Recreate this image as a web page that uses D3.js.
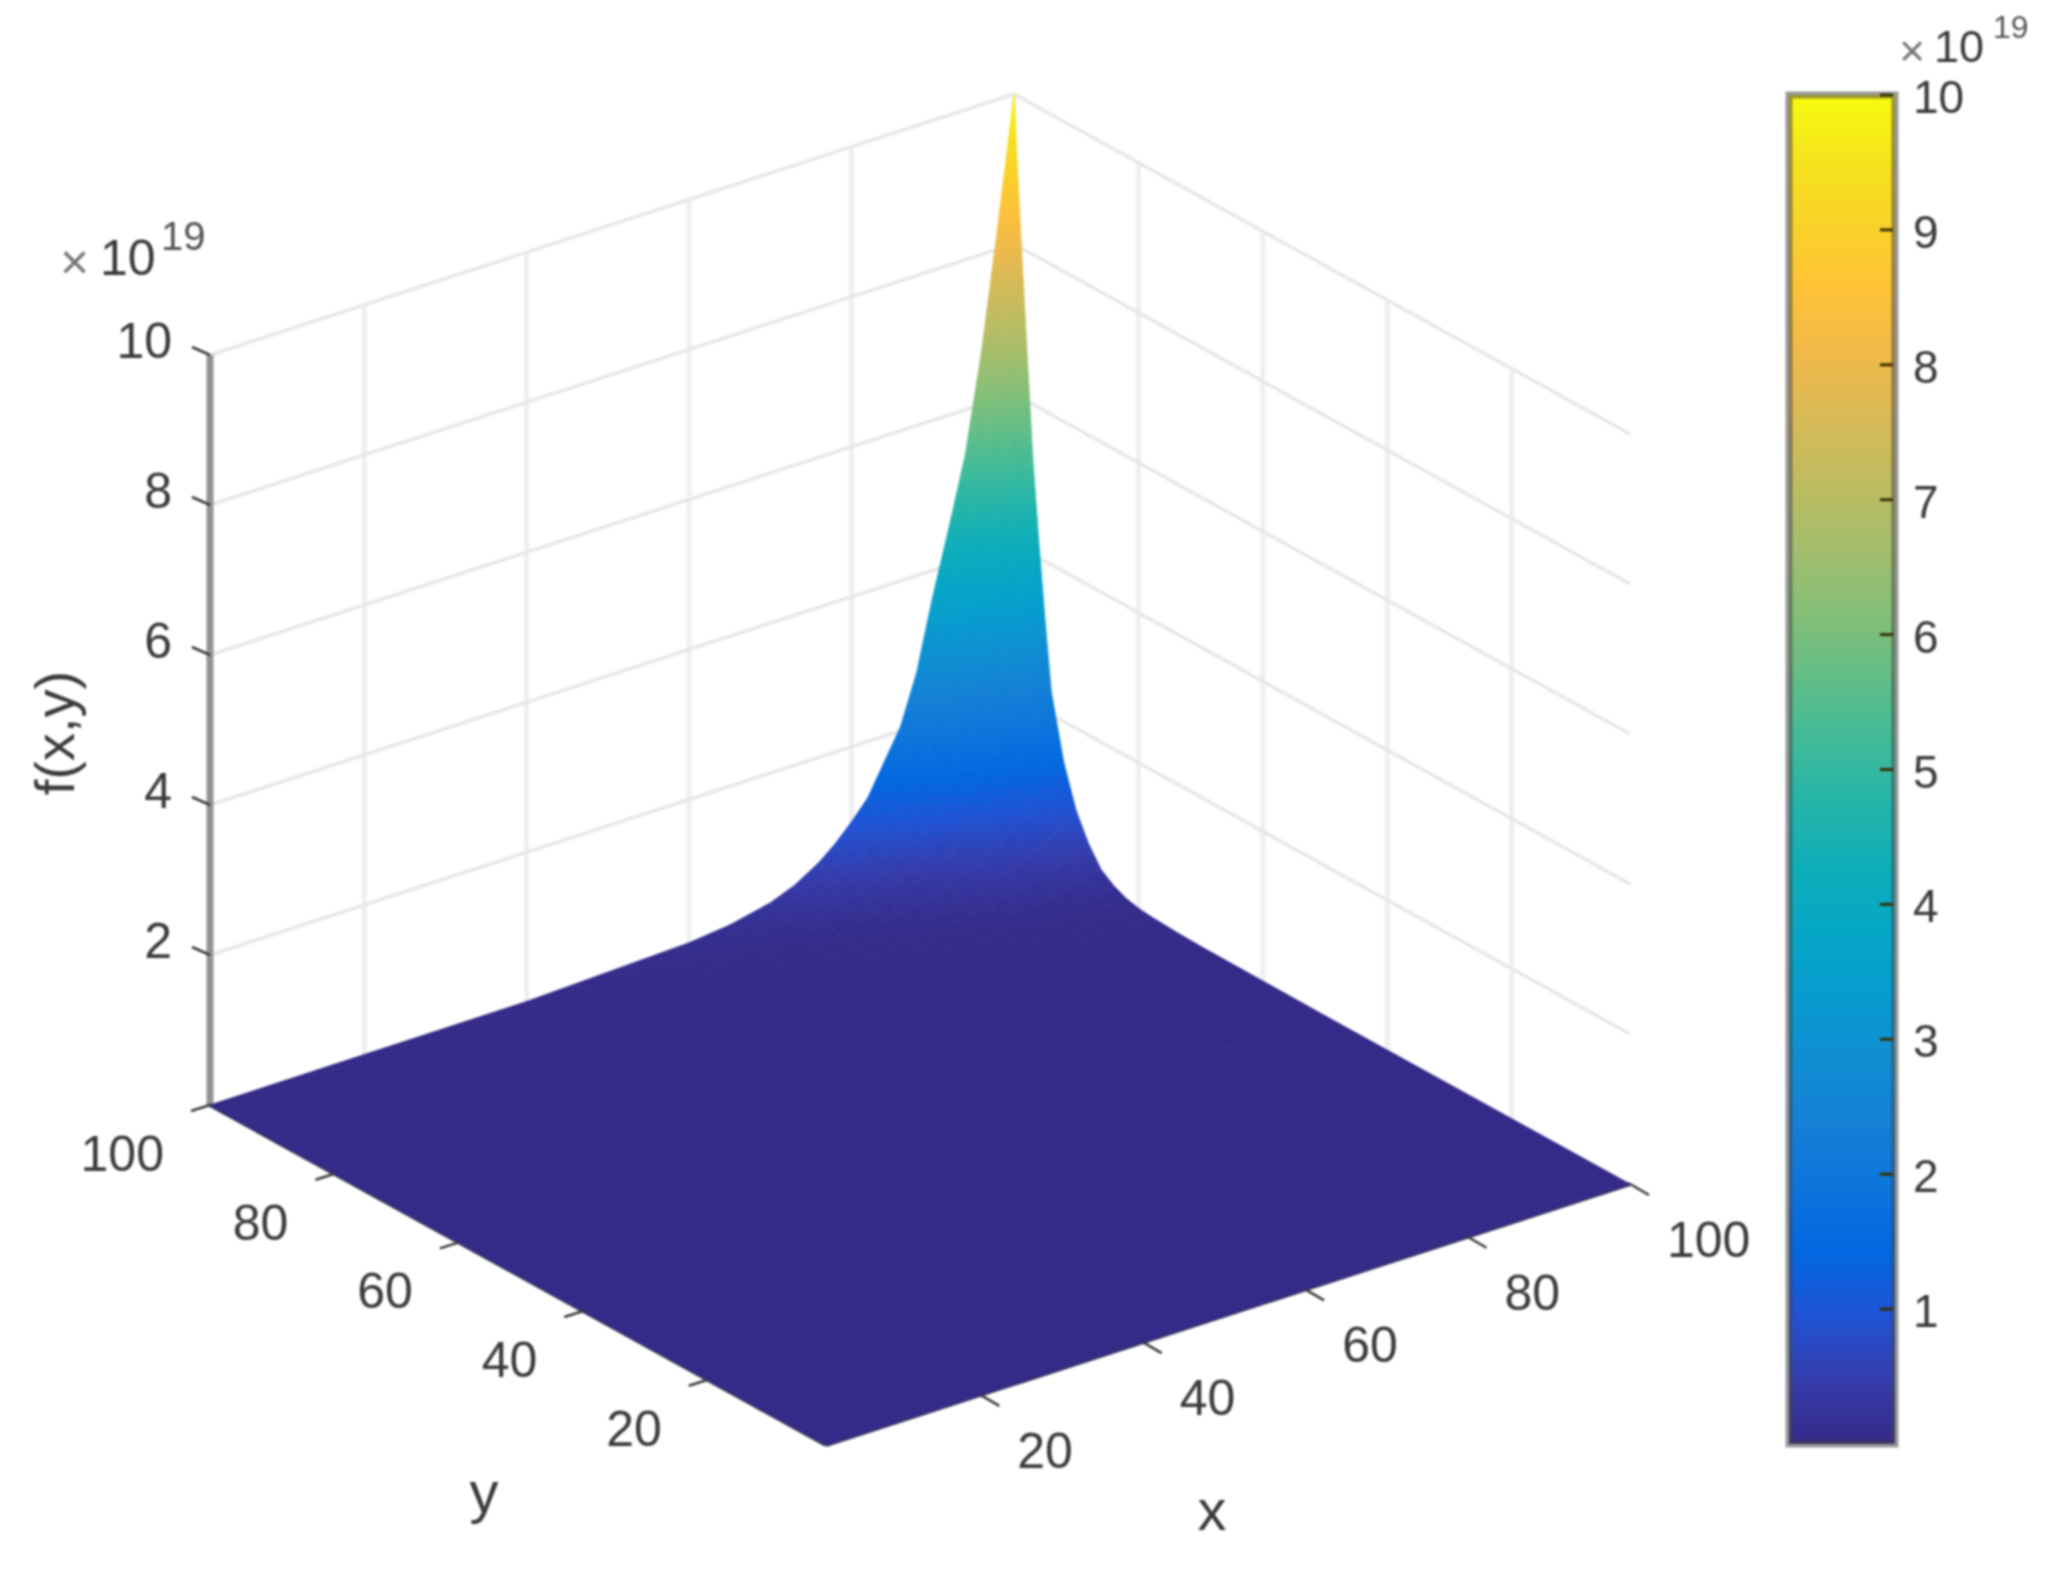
<!DOCTYPE html>
<html>
<head>
<meta charset="utf-8">
<script src="https://cdn.jsdelivr.net/npm/d3@7"></script>
<style>
    html, body { margin: 0; padding: 0; background: #fff; }
    svg { display: block; filter: blur(0.8px); }
    text { font-family: "Liberation Sans", Arial, sans-serif; fill: #3a3a3a; }
</style>
</head>
<body>
<div id="frame"></div>
<script>
// CHART VARIABLES
const width = 2062;
const height = 1577;

// data variables (z values in units of 10^19)
const xLevels = [100, 98, 96, 94, 92, 90, 88, 86, 84, 82, 80, 78, 76, 73, 70, 65, 60, 40, 1];
const yLevels = [1, 50, 70, 74, 78, 80, 82, 84, 86, 88, 90, 92, 94, 95, 96, 97, 98, 99, 100];
const zGrid = [
    [0, 0, .01, .02, .04, .06, .1, .18, .3, .55, .9, 1.45, 2.3, 3.2, 4.2, 5.3, 6.8, 8.3, 10],
    [0, 0, .008, .017, .033, .05, .083, .149, .249, .457, .747, 1.2, 1.91, 2.66, 3.49, 4.4, 5.64, 6.89, 8.3],
    [0, 0, .007, .013, .027, .04, .067, .121, .201, .369, .603, .972, 1.54, 2.14, 2.81, 3.55, 4.56, 5.56, 6.7],
    [0, 0, .005, .011, .022, .032, .054, .097, .162, .297, .486, .783, 1.24, 1.73, 2.27, 2.86, 3.67, 4.48, 5.4],
    [0, 0, .005, .009, .018, .027, .045, .081, .135, .248, .405, .653, 1.04, 1.44, 1.89, 2.39, 3.06, 3.74, 4.5],
    [0, 0, .004, .007, .015, .022, .037, .066, .11, .201, .329, .529, .84, 1.17, 1.53, 1.93, 2.48, 3.03, 3.65],
    [0, 0, .003, .005, .011, .016, .027, .049, .081, .149, .243, .392, .621, .864, 1.13, 1.43, 1.84, 2.24, 2.7],
    [0, 0, .002, .004, .008, .012, .021, .037, .062, .113, .185, .297, .472, .656, .861, 1.09, 1.39, 1.7, 2.05],
    [0, 0, .002, .003, .007, .01, .017, .03, .05, .091, .149, .239, .38, .528, .693, .875, 1.12, 1.37, 1.65],
    [0, 0, .001, .003, .005, .008, .013, .023, .038, .069, .113, .181, .288, .4, .525, .663, .85, 1.04, 1.25],
    [0, 0, .001, .002, .004, .006, .01, .018, .03, .055, .09, .145, .23, .32, .42, .53, .68, .83, 1.0],
    [0, 0, .001, .002, .003, .005, .008, .014, .023, .043, .07, .113, .179, .25, .328, .413, .53, .647, .78],
    [0, 0, .001, .001, .002, .004, .006, .011, .018, .033, .054, .087, .138, .192, .252, .318, .408, .498, .6],
    [0, 0, 0, .001, .002, .002, .004, .007, .012, .022, .036, .058, .092, .128, .168, .212, .272, .332, .4],
    [0, 0, 0, .001, .001, .002, .003, .005, .008, .015, .024, .039, .062, .086, .113, .143, .184, .224, .27],
    [0, 0, 0, 0, .001, .001, .002, .003, .005, .008, .014, .022, .035, .048, .063, .08, .102, .125, .15],
    [0, 0, 0, 0, 0, .001, .001, .002, .003, .005, .008, .013, .021, .029, .038, .048, .061, .075, .09],
    [0, 0, 0, 0, 0, 0, 0, 0, 0, .001, .001, .001, .002, .003, .004, .005, .007, .008, .01],
    [0, 0, 0, 0, 0, 0, 0, 0, 0, 0, 0, 0, 0, 0, 0, 0, 0, 0, 0]
];

// tick labels
const xTicks = [20, 40, 60, 80, 100];
const yTicks = [20, 40, 60, 80, 100];
const zTicks = [2, 4, 6, 8, 10];
const barTicks = [1, 2, 3, 4, 5, 6, 7, 8, 9, 10];

// colors
const parula = ["#352a87", "#353dad", "#2053d4", "#0268e1", "#0d75dc", "#1480d6", "#108ed2", "#079ccf",
    "#06a7c6", "#0faeb9", "#25b5a9", "#42bb98", "#65be86", "#87bf77", "#a5be6b", "#c0bc60",
    "#d9ba56", "#f1b94a", "#ffc337", "#f9d329", "#f5e41d", "#f9fb0e"];
const gridColor = "#e7e7e7";
const colorZ = d3.scaleLinear()
    .domain(parula.map((c, i) => i / (parula.length - 1) * 10))
    .range(parula)
    .clamp(true);

// define svg
const svg = d3.select("#frame")
    .append("svg")
        .attr("width", width)
        .attr("height", height)
        .attr("viewBox", [0, 0, width, height]);
const defs = svg.append("defs");

// oblique projection: front corner is x=1, y=1, z=0
const origin = [826, 1445];
const xToX = d3.scaleLinear().domain([1, 100]).range([0, 804]);
const xToY = d3.scaleLinear().domain([1, 100]).range([0, -261]);
const yToX = d3.scaleLinear().domain([1, 100]).range([0, -616]);
const yToY = d3.scaleLinear().domain([1, 100]).range([0, -340]);
const zToY = d3.scaleLinear().domain([0, 10]).range([0, -750]);

function project(x, y, z) {
    return [origin[0] + xToX(x) + yToX(y), origin[1] + xToY(x) + yToY(y) + zToY(z)];
}

function drawLine(group, a, b, color, w) {
    group.append("line")
        .attr("x1", a[0]).attr("y1", a[1])
        .attr("x2", b[0]).attr("y2", b[1])
        .attr("stroke", color)
        .attr("stroke-width", w);
}

// FUNCTIONS
function plotGrid() {
    const g = svg.append("g").attr("class", "g-grid");

    // vertical lines on both walls
    xTicks.forEach(v => drawLine(g, project(v, 100, 0), project(v, 100, 10), "#efefef", 5));
    yTicks.forEach(v => drawLine(g, project(100, v, 0), project(100, v, 10), "#efefef", 5));

    // height lines on both walls
    zTicks.forEach(v => {
        drawLine(g, project(1, 100, v), project(100, 100, v), gridColor, 3.5);
        drawLine(g, project(100, 100, v), project(100, 1, v), gridColor, 3.5);
    });
}

function plotAxes() {
    const g = svg.append("g").attr("class", "g-axes");

    drawLine(g, project(1, 100, 0), project(1, 100, 10), "#929292", 7);
    drawLine(g, project(1, 1, 0), project(100, 1, 0), "#3a3a60", 4);
    drawLine(g, project(1, 1, 0), project(1, 100, 0), "#3a3a60", 4);
}

function plotSurface() {
    const cells = [];
    xLevels.slice(1).forEach((x0, i) => {
        const x1 = xLevels[i];
        // far cells first so the nearer ones paint over them
        d3.range(yLevels.length - 2, -1, -1).forEach(j => {
            const y0 = yLevels[j], y1 = yLevels[j + 1];
            const corners = [
                [x0, y0, zGrid[i + 1][j]],
                [x1, y0, zGrid[i][j]],
                [x1, y1, zGrid[i][j + 1]],
                [x0, y1, zGrid[i + 1][j + 1]]
            ];
            const pts = corners.map(c => project(c[0], c[1], c[2]));
            cells.push({
                id: "cell-" + i + "-" + j,
                pts: pts,
                zMax: d3.max(corners, c => c[2]),
                zMin: d3.min(corners, c => c[2]),
                top: d3.min(pts, p => p[1]),
                bottom: d3.max(pts, p => p[1])
            });
        });
    });

    // each cell gets a vertical gradient running through its z range
    const grads = defs.selectAll("linearGradient.cell")
        .data(cells)
        .enter()
        .append("linearGradient")
            .attr("class", "cell")
            .attr("id", d => d.id)
            .attr("gradientUnits", "userSpaceOnUse")
            .attr("x1", 0).attr("x2", 0)
            .attr("y1", d => d.top)
            .attr("y2", d => d.bottom);

    grads.selectAll("stop")
        .data(d => d3.range(7).map(k => ({ off: k / 6, z: d.zMax + (d.zMin - d.zMax) * k / 6 })))
        .enter()
        .append("stop")
            .attr("offset", d => d.off)
            .attr("stop-color", d => colorZ(d.z));

    svg.append("g")
            .attr("class", "g-surface")
        .selectAll("polygon")
        .data(cells)
        .enter()
        .append("polygon")
            .attr("points", d => d.pts.map(p => p.join(",")).join(" "))
            .attr("fill", d => "url(#" + d.id + ")")
            .attr("stroke", d => "url(#" + d.id + ")")
            .attr("stroke-width", 0.8);
}

function plotTicks() {
    const g = svg.append("g").attr("class", "g-ticks");

    // x axis
    xTicks.forEach(v => {
        const p = project(v, 1, 0);
        drawLine(g, p, [p[0] + 19, p[1] + 11], "#3a3a3a", 2.5);
        g.append("text")
            .attr("x", p[0] + 37)
            .attr("y", p[1] + 73)
            .attr("font-size", 50)
            .text(v);
    });

    // y axis
    yTicks.forEach(v => {
        const p = project(1, v, 0);
        drawLine(g, p, [p[0] - 19, p[1] + 6], "#3a3a3a", 2.5);
        g.append("text")
            .attr("x", p[0] - 46)
            .attr("y", p[1] + 66)
            .attr("text-anchor", "end")
            .attr("font-size", 50)
            .text(v);
    });

    // z axis
    zTicks.forEach(v => {
        const p = project(1, 100, v);
        drawLine(g, p, [p[0] - 18, p[1] - 8], "#3a3a3a", 2.5);
        g.append("text")
            .attr("x", p[0] - 38)
            .attr("y", p[1] + 3)
            .attr("text-anchor", "end")
            .attr("font-size", 50)
            .text(v);
    });
}

function plotExponent(xTimes, xTen, xPow, yTen, yPow, fontTen, fontPow) {
    const g = svg.append("g").attr("class", "g-exponent");
    g.append("text").attr("x", xTimes).attr("y", yTen + 4).attr("font-size", fontTen).style("fill", "#777").text("×");
    g.append("text").attr("x", xTen).attr("y", yTen).attr("font-size", fontTen).text("10");
    g.append("text").attr("x", xPow).attr("y", yPow).attr("font-size", fontPow).style("fill", "#555").text("19");
}

function plotLabels() {
    svg.append("text")
        .attr("transform", "translate(74,733) rotate(-90)")
        .attr("text-anchor", "middle")
        .attr("font-size", 56)
        .text("f(x,y)");
    svg.append("text")
        .attr("x", 484).attr("y", 1512)
        .attr("text-anchor", "middle")
        .attr("font-size", 58)
        .text("y");
    svg.append("text")
        .attr("x", 1212).attr("y", 1530)
        .attr("text-anchor", "middle")
        .attr("font-size", 58)
        .text("x");
}

function plotColorbar() {
    const barY = d3.scaleLinear().domain([0, 10]).range([1444, 95]);

    const grad = defs.append("linearGradient")
        .attr("id", "bar-grad")
        .attr("x1", 0).attr("x2", 0)
        .attr("y1", 1).attr("y2", 0);
    grad.selectAll("stop")
        .data(parula)
        .enter()
        .append("stop")
            .attr("offset", (d, i) => i / (parula.length - 1))
            .attr("stop-color", d => d);

    const g = svg.append("g").attr("class", "g-colorbar");
    g.append("rect")
        .attr("x", 1789).attr("y", barY(10))
        .attr("width", 106).attr("height", barY(0) - barY(10))
        .attr("fill", "url(#bar-grad)")
        .attr("stroke", "rgba(70,70,70,0.55)")
        .attr("stroke-width", 7);

    g.selectAll("line")
        .data(barTicks)
        .enter()
        .append("line")
            .attr("x1", 1880).attr("x2", 1893)
            .attr("y1", d => barY(d)).attr("y2", d => barY(d))
            .attr("stroke", "#3a3000")
            .attr("stroke-width", 3);

    g.selectAll("text")
        .data(barTicks)
        .enter()
        .append("text")
            .attr("x", 1913)
            .attr("y", d => barY(d) + 18)
            .attr("font-size", 46)
            .text(d => d);
}

plotGrid();
plotAxes();
plotSurface();
plotTicks();
plotExponent(60, 100, 161, 275, 250, 50, 40);
plotColorbar();
plotExponent(1899, 1934, 1993, 62, 38, 45, 32);
plotLabels();
</script>
</body>
</html>
